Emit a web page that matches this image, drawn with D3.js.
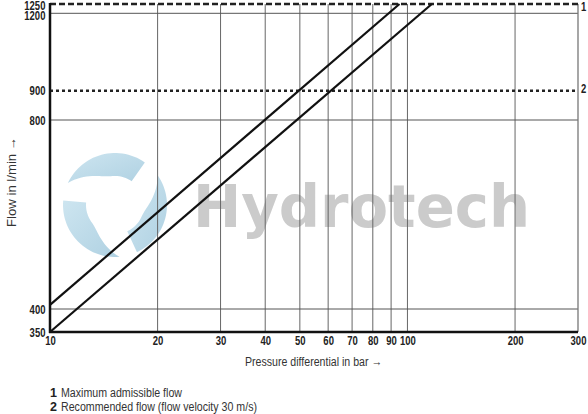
<!DOCTYPE html>
<html>
<head>
<meta charset="utf-8">
<script src="https://cdn.jsdelivr.net/npm/d3@7"></script>
<style>
  body { margin: 0; background: #fff; }
  text { font-family: "Liberation Sans", Arial, sans-serif; }
</style>
</head>
<body>
<svg id="chart" width="588" height="414"></svg>
<script>
// values
const pressureTicks = [10, 20, 30, 40, 50, 60, 70, 80, 90, 100, 200, 300];
const flowTicks = [350, 400, 800, 900, 1200, 1250];
const gridFlows = [400, 800, 1200];
const maxAdmissibleFlow = 1250;   // line 1
const recommendedFlow = 900;      // line 2
const curveA = [{ p: 10, q: 406 }, { p: 95, q: 1250 }];
const curveB = [{ p: 10, q: 350 }, { p: 117, q: 1250 }];
const legendKeys = ["1", "2"];
const legendLabels = ["Maximum admissible flow", "Recommended flow (flow velocity 30 m/s)"];

const narrow = "scale(0.76,1)";   // the printed labels use a condensed face
const labelSize = 12.5;

const svg = d3.select("#chart");

const x = d3.scaleLog()
    .domain([10, 300])
    .range([50, 578]);

// the printed flow axis is not evenly logarithmic, so map it piecewise
const y = d3.scaleLog()
    .domain([350, 400, 800, 900, 1200, 1250])
    .range([332, 309, 120, 90.7, 13.3, 4]);

// watermark logo: three tapered blades (behind the grid)
const wm = svg.append("g").attr("class", "watermark");
const grad = svg.append("defs").append("linearGradient")
    .attr("id", "wmBlue").attr("x1", 0).attr("y1", 0).attr("x2", 1).attr("y2", 1);
grad.append("stop").attr("offset", "0%").attr("stop-color", "#cde5f0");
grad.append("stop").attr("offset", "100%").attr("stop-color", "#afd1e2");

function bladePath(a0, a1, R, r) {
    const pts = [];
    const n = 30;
    for (let i = 0; i <= n; i++) {
        const a = a0 + (a1 - a0) * i / n;
        pts.push([R * Math.sin(a), -R * Math.cos(a)]);
    }
    for (let i = n; i >= 0; i--) {
        const t = i / n;
        const a = a0 + (a1 - a0) * t;
        const rr = R - (R - r) * Math.sin(Math.min(1, t * 1.7) * Math.PI / 2);
        pts.push([rr * Math.sin(a), -rr * Math.cos(a)]);
    }
    return d3.line()(pts) + "Z";
}
[0, 1, 2].forEach(i => {
    const a0 = (i * 120 + 295) * Math.PI / 180;
    wm.append("path")
        .attr("transform", "translate(115,205)")
        .attr("d", bladePath(a0, a0 + 100 * Math.PI / 180, 52, 29))
        .attr("fill", "url(#wmBlue)");
});
wm.append("text")
    .attr("x", 193)
    .attr("y", 227)
    .attr("textLength", 337)
    .attr("lengthAdjust", "spacingAndGlyphs")
    .style("font-family", "'DejaVu Sans', sans-serif")
    .attr("font-size", 58)
    .attr("font-weight", "bold")
    .attr("fill", "#cbcbcb")
    .text("Hydrotech");

// vertical grid
svg.append("g")
    .selectAll("line")
    .data(pressureTicks.slice(1, -1))
    .enter().append("line")
    .attr("x1", d => x(d)).attr("x2", d => x(d))
    .attr("y1", y(1250)).attr("y2", y(350))
    .attr("stroke", "#666")
    .attr("stroke-width", 1);

// horizontal grid
svg.append("g")
    .selectAll("line")
    .data(gridFlows)
    .enter().append("line")
    .attr("x1", x(10)).attr("x2", x(300))
    .attr("y1", d => y(d)).attr("y2", d => y(d))
    .attr("stroke", "#555")
    .attr("stroke-width", 1);

// right border
svg.append("line")
    .attr("x1", x(300)).attr("x2", x(300))
    .attr("y1", y(1250)).attr("y2", y(350))
    .attr("stroke", "#777")
    .attr("stroke-width", 1.3);

// limit lines 1 and 2
svg.append("line")
    .attr("x1", x(10)).attr("x2", x(300))
    .attr("y1", y(maxAdmissibleFlow)).attr("y2", y(maxAdmissibleFlow))
    .attr("stroke", "#222")
    .attr("stroke-width", 2.4)
    .attr("stroke-dasharray", "6,3");

svg.append("line")
    .attr("x1", x(10)).attr("x2", x(300))
    .attr("y1", y(recommendedFlow)).attr("y2", y(recommendedFlow))
    .attr("stroke", "#222")
    .attr("stroke-width", 2.4)
    .attr("stroke-dasharray", "3,3");

// keys "1" and "2" at the right end of the limit lines
const keyDrop = [6.5, 2.5];
[maxAdmissibleFlow, recommendedFlow].forEach((q, i) => {
    svg.append("g")
        .attr("transform", "translate(" + (x(300) + 3) + "," + (y(q) + keyDrop[i]) + ")")
        .append("text")
        .attr("transform", narrow)
        .attr("font-size", labelSize).attr("font-weight", "bold").attr("fill", "#222")
        .text(legendKeys[i]);
});

// the two characteristic lines
const line = d3.line()
    .x(d => x(d.p))
    .y(d => y(d.q));

[curveA, curveB].forEach(c => {
    svg.append("path")
        .datum(c)
        .attr("d", line)
        .attr("fill", "none")
        .attr("stroke", "#111")
        .attr("stroke-width", 2.2);
});

// axes
const xAxis = svg.append("g")
    .attr("transform", "translate(0," + y(350) + ")")
    .call(d3.axisBottom(x).tickValues(pressureTicks).tickFormat(d3.format("d")).tickSize(0).tickPadding(4));
xAxis.select(".domain").remove();
xAxis.selectAll("text")
    .attr("transform", narrow)
    .attr("font-size", labelSize).attr("font-weight", "bold").attr("fill", "#222")
    .style("font-family", null);

const yAxis = svg.append("g")
    .attr("transform", "translate(" + x(10) + ",0)")
    .call(d3.axisLeft(y).tickValues(flowTicks).tickFormat(d3.format("d")).tickSize(0).tickPadding(6));
yAxis.select(".domain").remove();
yAxis.selectAll("text")
    .attr("transform", narrow)
    .attr("font-size", labelSize).attr("font-weight", "bold").attr("fill", "#222")
    .style("font-family", null);
// the two top labels sit very close together in the original
yAxis.selectAll(".tick").filter(d => d === 1250).select("text").attr("dy", "5px");
yAxis.selectAll(".tick").filter(d => d === 1200).select("text").attr("dy", "6.6px");

// thick axis lines
svg.append("line")
    .attr("x1", x(10)).attr("x2", x(10))
    .attr("y1", y(1250) - 1).attr("y2", y(350) + 1)
    .attr("stroke", "#111").attr("stroke-width", 2.5);
svg.append("line")
    .attr("x1", x(10) - 1).attr("x2", x(300))
    .attr("y1", y(350)).attr("y2", y(350))
    .attr("stroke", "#111").attr("stroke-width", 2.5);

// axis titles
svg.append("text")
    .attr("x", 245).attr("y", 366)
    .attr("textLength", 137).attr("lengthAdjust", "spacingAndGlyphs")
    .attr("font-size", 12.5).attr("fill", "#333")
    .text("Pressure differential in bar \u2192");

svg.append("text")
    .attr("transform", "translate(16,182) rotate(-90)")
    .attr("x", -45)
    .attr("textLength", 90).attr("lengthAdjust", "spacingAndGlyphs")
    .attr("font-size", 12.5).attr("fill", "#333")
    .text("Flow in l/min \u2192");

// legend
const legendWidths = [121, 196];
legendKeys.forEach((k, i) => {
    svg.append("text")
        .attr("x", 50).attr("y", 397 + i * 13.5)
        .attr("font-size", 12.5).attr("font-weight", "bold").attr("fill", "#222")
        .text(k);
    svg.append("text")
        .attr("x", 61).attr("y", 397 + i * 13.5)
        .attr("textLength", legendWidths[i]).attr("lengthAdjust", "spacingAndGlyphs")
        .attr("font-size", 12.5).attr("fill", "#333")
        .text(legendLabels[i]);
});
</script>
</body>
</html>
